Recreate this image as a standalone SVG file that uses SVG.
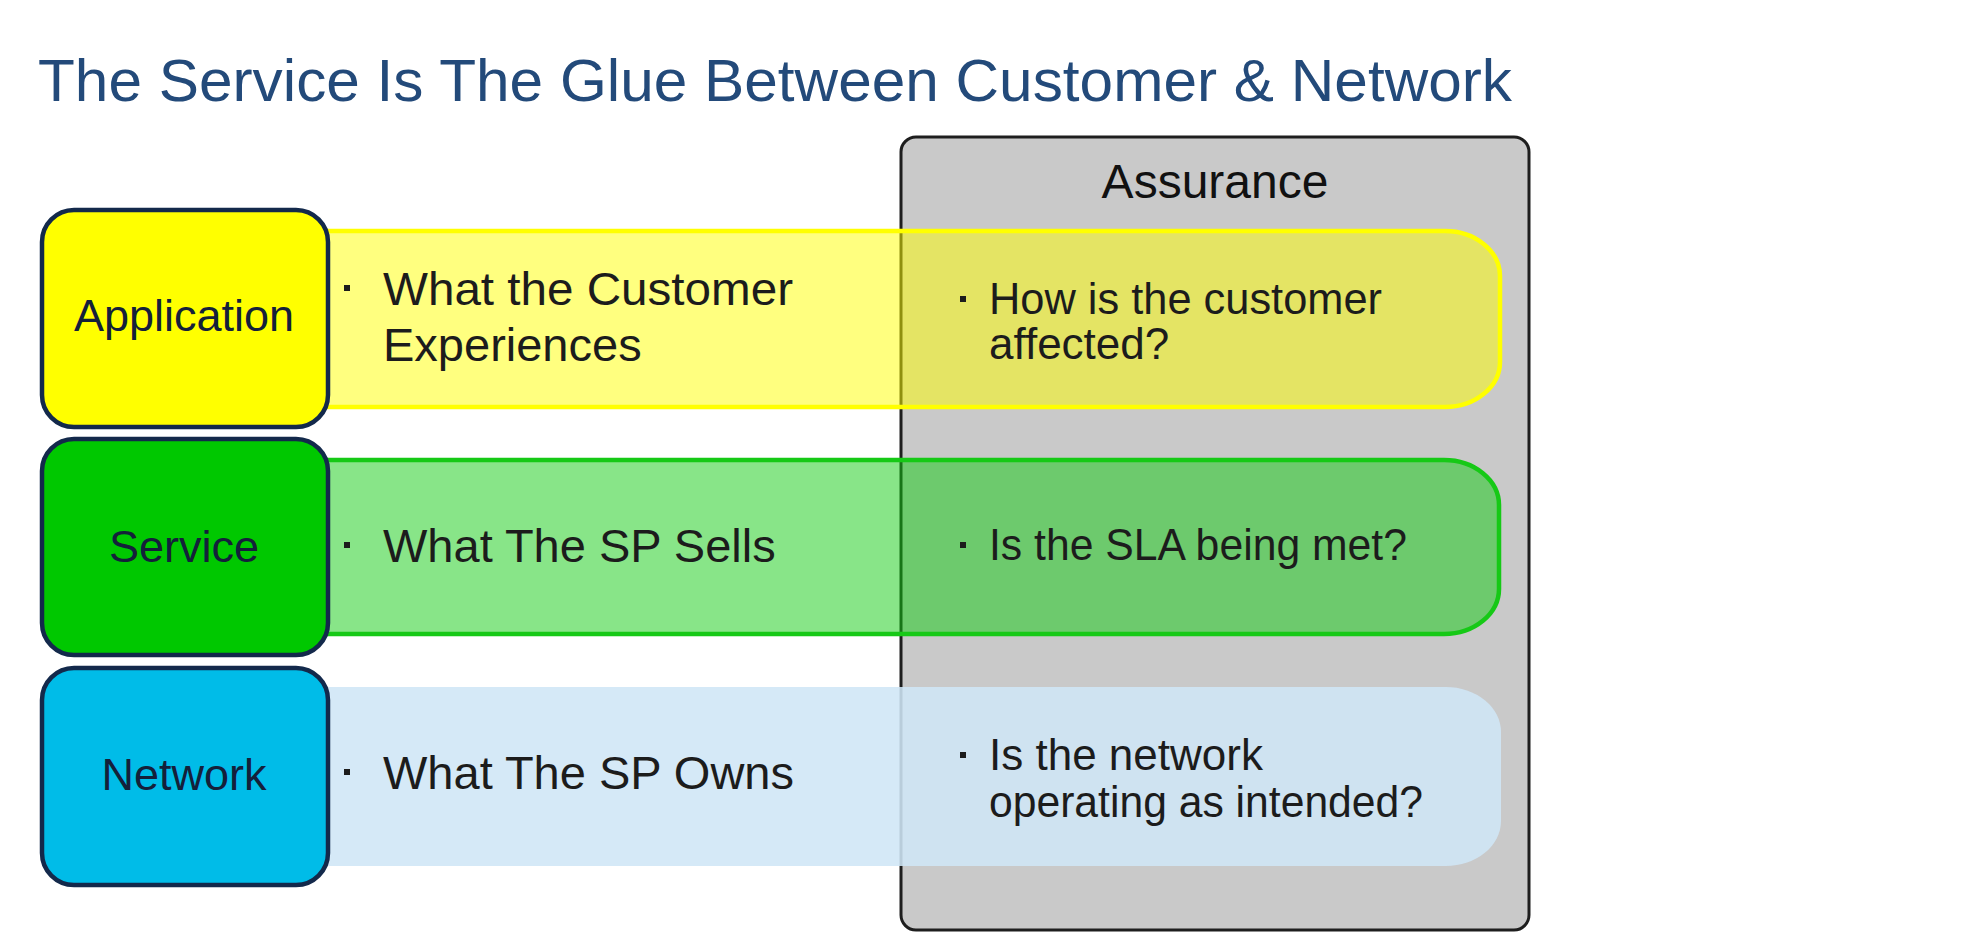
<svg xmlns="http://www.w3.org/2000/svg" width="1980" height="932" viewBox="0 0 1980 932">
  <style>
    .title { font-family: "Liberation Sans", Arial, sans-serif; font-size: 60px; fill: #234a7a; }
    .node { stroke: #13294b; stroke-width: 4.5; }
    .label { font-family: "Liberation Sans", Arial, sans-serif; font-size: 45px; fill: #14203a; text-anchor: middle; }
    .txt { font-family: "Liberation Sans", Arial, sans-serif; font-size: 47px; fill: #1c1c1c; }
    .atxt { font-family: "Liberation Sans", Arial, sans-serif; font-size: 44px; fill: #1c1c1c; }
    .bullet { fill: #1c1c1c; }
  </style>

  <rect width="1980" height="932" fill="#ffffff"/>

  <text class="title" x="38" y="101" textLength="1474" lengthAdjust="spacingAndGlyphs">The Service Is The Glue Between Customer &amp; Network</text>

  <!-- Assurance panel -->
  <g id="assurance">
    <rect x="901" y="137" width="628" height="793" rx="15" fill="#c9c9c9" stroke="#1e1e1e" stroke-width="3"/>
    <text x="1215" y="198" font-family="Liberation Sans, Arial, sans-serif" font-size="48" fill="#111" text-anchor="middle">Assurance</text>
  </g>

  <!-- Horizontal bands -->
  <g id="band-application">
    <path d="M300,231 H1445 A55,45 0 0 1 1500,276 V362 A55,45 0 0 1 1445,407 H300 Z" fill="#ffff00" fill-opacity="0.5" stroke="#ffff00" stroke-width="4.5"/>
  </g>
  <g id="band-service">
    <path d="M300,460 H1444 A55,45 0 0 1 1499,505 V589 A55,45 0 0 1 1444,634 H300 Z" fill="#12cc12" fill-opacity="0.5" stroke="#16c916" stroke-width="4.5"/>
  </g>
  <g id="band-network">
    <path d="M300,687 H1446 A55,45 0 0 1 1501,732 V821 A55,45 0 0 1 1446,866 H300 Z" fill="#cfe6f6" fill-opacity="0.88"/>
  </g>

  <!-- Layer nodes -->
  <g id="node-application">
    <rect class="node" x="42" y="210" width="286" height="217" rx="32" fill="#ffff00"/>
    <text class="label" x="184" y="331">Application</text>
  </g>
  <g id="node-service">
    <rect class="node" x="42" y="439" width="286" height="216" rx="32" fill="#00c800"/>
    <text class="label" x="184" y="562">Service</text>
  </g>
  <g id="node-network">
    <rect class="node" x="42" y="668" width="286" height="217" rx="32" fill="#00bce8"/>
    <text class="label" x="184" y="790">Network</text>
  </g>

  <!-- Band descriptions -->
  <g id="desc-application">
    <rect class="bullet" x="344" y="285" width="6" height="6"/>
    <text class="txt" x="383" y="305" textLength="410" lengthAdjust="spacingAndGlyphs">What the Customer</text>
    <text class="txt" x="383" y="361">Experiences</text>
  </g>
  <g id="desc-service">
    <rect class="bullet" x="344" y="542" width="6" height="6"/>
    <text class="txt" x="383" y="562">What The SP Sells</text>
  </g>
  <g id="desc-network">
    <rect class="bullet" x="344" y="769" width="6" height="6"/>
    <text class="txt" x="383" y="789">What The SP Owns</text>
  </g>

  <!-- Assurance questions -->
  <g id="q-application">
    <rect class="bullet" x="960" y="296" width="6" height="6"/>
    <text class="atxt" x="989" y="314" textLength="393" lengthAdjust="spacingAndGlyphs">How is the customer</text>
    <text class="atxt" x="989" y="359">affected?</text>
  </g>
  <g id="q-service">
    <rect class="bullet" x="960" y="542" width="6" height="6"/>
    <text class="atxt" x="989" y="560" textLength="418" lengthAdjust="spacingAndGlyphs">Is the SLA being met?</text>
  </g>
  <g id="q-network">
    <rect class="bullet" x="960" y="752" width="6" height="6"/>
    <text class="atxt" x="989" y="770">Is the network</text>
    <text class="atxt" x="989" y="817" textLength="434" lengthAdjust="spacingAndGlyphs">operating as intended?</text>
  </g>
</svg>
